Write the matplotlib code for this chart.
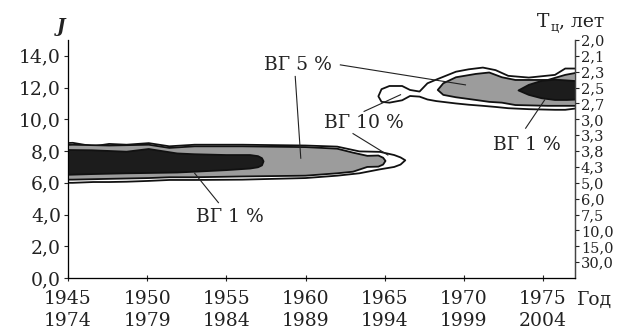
import matplotlib
matplotlib.use("Agg")
import matplotlib.pyplot as plt
import numpy as np

plt.rcParams['font.family'] = ['DejaVu Serif']

# --- axes data ---
j_ticks = [0, 2, 4, 6, 8, 10, 12, 14]
j_labels = ["0,0", "2,0", "4,0", "6,0", "8,0", "10,0", "12,0", "14,0"]
t_pos = list(range(1, 16))
t_labels = ["30,0", "15,0", "10,0", "7,5", "6,0", "5,0", "4,3", "3,8",
            "3,3", "3,0", "2,7", "2,5", "2,3", "2,1", "2,0"]
years_top = [1945, 1950, 1955, 1960, 1965, 1970, 1975]
years_bot = [1974, 1979, 1984, 1989, 1994, 1999, 2004]

# --- contour regions: x, upper J, lower J ---
# left band
l10_x = [1944.8, 1945.3, 1946.6, 1947.6, 1948.7, 1950.1, 1951.4, 1953.0, 1956.0,
         1960.0, 1962.0, 1963.4, 1964.7, 1965.6, 1966.0, 1966.3]
l10_up = [8.5, 8.52, 8.3, 8.45, 8.4, 8.5, 8.3, 8.4, 8.4, 8.35, 8.28, 7.98, 7.95, 7.75, 7.6, 7.42]
l10_lo = [6.0, 6.0, 6.05, 6.05, 6.07, 6.12, 6.18, 6.18, 6.2, 6.3, 6.45, 6.6, 6.85, 7.0, 7.15, 7.42]

l5_x = [1944.8, 1945.3, 1947.6, 1950.1, 1951.4, 1953.0, 1956.0, 1960.0, 1962.0,
        1963.0, 1963.9, 1964.6, 1964.9, 1965.05]
l5_up = [8.38, 8.4, 8.35, 8.4, 8.2, 8.3, 8.3, 8.25, 8.15, 7.9, 7.7, 7.72, 7.58, 7.38]
l5_lo = [6.2, 6.2, 6.25, 6.3, 6.35, 6.35, 6.4, 6.45, 6.6, 6.7, 7.0, 7.02, 7.15, 7.38]

l1_x = [1944.8, 1946.5, 1948.7, 1950.1, 1951.9, 1953.0, 1955.0, 1956.5, 1957.0, 1957.25, 1957.35]
l1_up = [8.07, 8.05, 7.96, 8.13, 7.85, 7.8, 7.75, 7.75, 7.68, 7.55, 7.35]
l1_lo = [6.5, 6.55, 6.6, 6.62, 6.65, 6.7, 6.8, 6.9, 6.98, 7.1, 7.35]

# right band
r10_x = [1964.6, 1964.8, 1965.3, 1966.1, 1966.6, 1967.2, 1967.7, 1968.25, 1969.5,
         1970.3, 1971.2, 1972.0, 1972.8, 1974.1, 1975.75, 1976.4, 1977.2]
r10_up = [11.45, 11.9, 12.1, 12.1, 11.85, 11.75, 12.27, 12.5, 13.0, 13.15, 13.26,
          13.1, 12.74, 12.63, 12.8, 13.2, 13.2]
r10_lo = [11.45, 11.1, 11.05, 11.2, 11.47, 11.43, 11.25, 11.15, 11.0, 10.92, 10.85,
          10.78, 10.7, 10.64, 10.6, 10.6, 10.7]

r5_x = [1968.35, 1968.7, 1969.5, 1970.75, 1971.6, 1972.4, 1973.25, 1975.3, 1976.4, 1977.2]
r5_up = [11.85, 12.27, 12.65, 12.86, 12.95, 12.65, 12.48, 12.48, 12.8, 12.95]
r5_lo = [11.85, 11.54, 11.39, 11.22, 11.1, 11.05, 10.9, 10.85, 10.85, 10.85]

r1_x = [1973.45, 1974.1, 1974.9, 1975.75, 1976.5, 1977.2]
r1_up = [11.82, 12.17, 12.42, 12.5, 12.45, 12.4]
r1_lo = [11.82, 11.54, 11.33, 11.22, 11.22, 11.25]

# --- annotations ---
labels = [("ВГ 5 %", 1959.5, 13.43), ("ВГ 10 %", 1963.7, 9.77),
          ("ВГ 1 %", 1974.0, 8.39), ("ВГ 1 %", 1955.2, 3.87)]
leaders = [(1959.35, 12.7, 1959.7, 7.55),
           (1962.2, 13.43, 1970.1, 12.17),
           (1963.7, 10.5, 1966.0, 11.55),
           (1963.0, 9.1, 1965.2, 7.75),
           (1973.9, 9.44, 1975.1, 11.22),
           (1954.5, 4.75, 1953.0, 6.6)]

GRAY = "#9c9c9c"
DARK = "#1c1c1c"

fig = plt.figure(figsize=(6.18, 3.33), dpi=100)
ax = fig.add_axes([0.110, 0.165, 0.820, 0.715])


def region(x, up, lo, face, z):
    xs = list(x) + list(x[::-1])
    ys = list(up) + list(lo[::-1])
    ax.fill(xs, ys, facecolor=face, edgecolor="#111111", linewidth=1.3,
            joinstyle="round", zorder=z)


region(l10_x, l10_up, l10_lo, "white", 2)
region(l5_x, l5_up, l5_lo, GRAY, 3)
region(l1_x, l1_up, l1_lo, DARK, 4)
region(r10_x, r10_up, r10_lo, "white", 2)
region(r5_x, r5_up, r5_lo, GRAY, 3)
region(r1_x, r1_up, r1_lo, DARK, 4)

for x0, y0, x1, y1 in leaders:
    ax.plot([x0, x1], [y0, y1], color="#222222", lw=0.8, zorder=5)

for txt, x, y in labels:
    ax.text(x, y, txt, fontsize=13.5, ha="center", va="center", color="#222222", zorder=6)

ax.set_xlim(1945, 1977)
ax.set_ylim(0, 15)
ax.set_yticks(j_ticks)
ax.set_yticklabels(j_labels, fontsize=13.5)
ax.set_xticks(years_top)
ax.set_xticklabels([f"{a}\n{b}" for a, b in zip(years_top, years_bot)],
                   fontsize=13.5, linespacing=1.3)
ax.tick_params(axis="y", direction="out", length=3, width=0.8, pad=2, colors="#222222")
ax.tick_params(axis="x", direction="inout", length=5, width=0.8, pad=6, colors="#222222")
ax.spines["top"].set_visible(False)
for s in ["left", "bottom", "right"]:
    ax.spines[s].set_color("#444444")
    ax.spines[s].set_linewidth(0.9)

ax2 = ax.twinx()
ax2.set_ylim(0, 15)
ax2.set_yticks(t_pos)
ax2.set_yticklabels(t_labels, fontsize=10.5)
ax2.tick_params(axis="y", direction="out", length=3, width=0.8, pad=1.5, colors="#222222")
ax2.spines["top"].set_visible(False)
ax2.spines["right"].set_color("#444444")
ax2.spines["right"].set_linewidth(0.9)

fig.text(0.099, 0.918, "J", fontsize=13, fontweight="bold", style="italic",
         ha="center", va="center", color="#222222")
fig.text(0.869, 0.935, "Т", fontsize=13.5, ha="left", va="center", color="#222222")
fig.text(0.890, 0.918, "ц", fontsize=9, ha="left", va="center", color="#222222")
fig.text(0.904, 0.935, ", лет", fontsize=13.5, ha="left", va="center", color="#222222")
fig.text(0.933, 0.099, "Год", fontsize=13.5, ha="left", va="center", color="#222222")

fig.savefig("out.png", dpi=100)
